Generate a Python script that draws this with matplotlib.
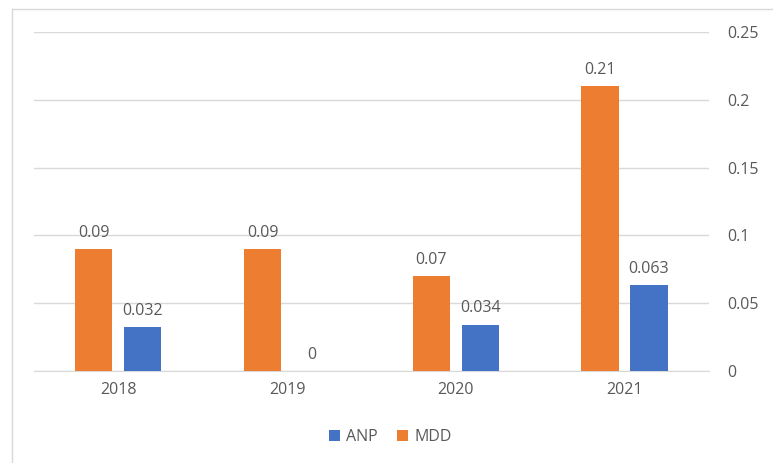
import matplotlib.pyplot as plt
import numpy as np
from matplotlib.lines import Line2D

years = ["2018", "2019", "2020", "2021"]
mdd = [0.09, 0.09, 0.07, 0.21]
anp = [0.032, 0, 0.034, 0.063]
mdd_labels = ["0.09", "0.09", "0.07", "0.21"]
anp_labels = ["0.032", "0", "0.034", "0.063"]

ORANGE = "#ED7D31"
BLUE = "#4472C4"
TXT = "#595959"
FS = 11.5

plt.rcParams["font.family"] = ["Open Sans", "DejaVu Sans"]

fig = plt.figure(figsize=(7.73, 4.63), dpi=100)
ax = fig.add_axes([0.044, 0.199, 0.873, 0.732])

x = np.arange(len(years))
w = 0.22
off = 0.145
b1 = ax.bar(x - off, mdd, w, color=ORANGE, label="MDD", zorder=3)
b2 = ax.bar(x + off, anp, w, color=BLUE, label="ANP", zorder=3)

for bars, labels in [(b1, mdd_labels), (b2, anp_labels)]:
    for rect, lab in zip(bars, labels):
        ax.annotate(lab, (rect.get_x() + rect.get_width() / 2, rect.get_height()),
                    xytext=(0, 6), textcoords="offset points", ha="center", va="bottom",
                    color=TXT, fontsize=FS)

ax.set_xlim(-0.5, 3.5)
ax.set_ylim(0, 0.25)
ax.set_xticks(x)
ax.set_xticklabels(years)
ax.set_yticks([0, 0.05, 0.1, 0.15, 0.2, 0.25])
ax.set_yticklabels(["0", "0.05", "0.1", "0.15", "0.2", "0.25"])
ax.yaxis.tick_right()
ax.tick_params(axis="both", length=0, colors=TXT, labelsize=FS)
ax.tick_params(axis="y", pad=13)
ax.tick_params(axis="x", pad=8)
ax.grid(axis="y", color="#D9D9D9", linewidth=1, zorder=0)
for s in ["top", "left", "right"]:
    ax.spines[s].set_visible(False)
ax.spines["bottom"].set_color("#D9D9D9")

h, l = ax.get_legend_handles_labels()
fig.legend([h[1], h[0]], [l[1], l[0]], loc="center", bbox_to_anchor=(0.505, 0.056),
           ncol=2, frameon=False, fontsize=FS, labelcolor=TXT,
           handlelength=0.7, handleheight=0.7, handletextpad=0.4, columnspacing=1.2)

# chart frame (only top and left edges visible in the crop)
fig.lines.append(Line2D([12 / 773, 12 / 773], [0, 1 - 9 / 463], transform=fig.transFigure,
                        color="#D9D9D9", linewidth=1))
fig.lines.append(Line2D([12 / 773, 1], [1 - 9 / 463, 1 - 9 / 463], transform=fig.transFigure,
                        color="#D9D9D9", linewidth=1))

fig.savefig("out.png", dpi=100)
